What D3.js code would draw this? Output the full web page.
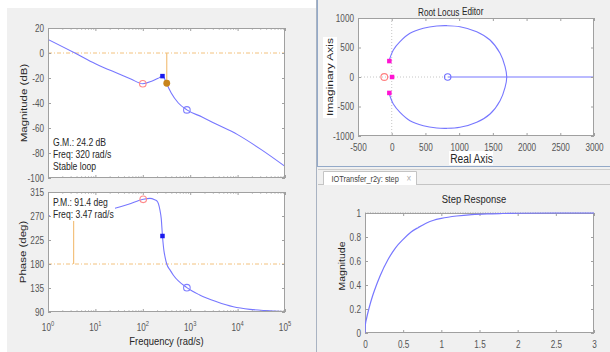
<!DOCTYPE html>
<html><head><meta charset="utf-8">
<script src="https://cdn.jsdelivr.net/npm/d3@7"></script>
<style>body{margin:0;background:#fff}svg{display:block}</style>
</head><body><svg id="c" width="610" height="352"></svg>
<script>
// ---------------- data ----------------
const magFreq = [1, 3.7, 10, 31.6, 56, 100, 158, 224, 260, 282, 316, 398, 562, 851, 1780, 3160, 10000, 31600, 100000];
const magDb   = [10.9, 0, -8.6, -16.8, -20.8, -24.6, -22.4, -19.7, -18.5, -19.8, -24.2, -32, -40, -45.5, -51.2, -56, -65.3, -77.3, -90.7];
const phaseFreq = [1, 3.47, 10, 25.9, 50, 102, 141, 178, 200, 229, 245, 260, 279, 295, 320, 380, 442, 851, 1585, 3630, 8130, 18200, 40700, 100000];
const phaseDeg  = [270.5, 271.4, 276, 284.4, 292, 301.3, 303, 300.5, 298, 282, 265, 232.5, 205, 193, 180, 168, 159, 135.6, 122, 109.4, 100, 95, 92.5, 90.6];
const gmDb = 24.2, gmFreq = 320, pmDeg = 91.4, pmFreq = 3.47;
const magRedCircle = [100, -24.6], magBlueX = [260, -18.5], magBlueCircle = [851, -45.5];
const phRedCircle = [102, 301.3], phBlueSquare = [260, 232.5], phBlueCircle = [851, 135.6];
const magTicks = [20, 0, -20, -40, -60, -80, -100];
const phaseTicks = [90, 135, 180, 225, 270, 315];
const freqDecades = [1, 10, 100, 1000, 10000, 100000];
const freqExp = ["0", "1", "2", "3", "4", "5"];

const rlArcRe = [-40, 24, 123, 271, 469, 668, 816, 1013, 1261, 1458, 1607, 1681, 1706, 1681, 1607, 1458, 1261, 1013, 816, 668, 469, 271, 123, 24, -40];
const rlArcIm = [271, 458, 599, 740, 825, 864, 870, 853, 768, 627, 401, 175, 0, -175, -401, -627, -768, -853, -870, -864, -825, -740, -599, -458, -271];
const rlRealBranch = [830, 3000];
const rlClosedPoles = [[-35, 270], [-35, -270], [5, 0]];
const rlRedZero = [-110, 0], rlBlueZero = [830, 0];
const rlXTicks = [-500, 0, 500, 1000, 1500, 2000, 2500, 3000];
const rlYTicks = [-1000, -500, 0, 500, 1000];

const stepT = [0, 0.005, 0.02, 0.05, 0.1, 0.15, 0.2, 0.3, 0.4, 0.5, 0.6, 0.7, 0.8, 0.9, 1.0, 1.2, 1.4, 1.6, 1.8, 2.0, 2.5, 3.0];
const stepY = [0, 0.07, 0.12, 0.2, 0.31, 0.40, 0.48, 0.61, 0.71, 0.78, 0.84, 0.88, 0.915, 0.94, 0.955, 0.975, 0.987, 0.993, 0.996, 0.998, 1.0, 1.0];
const stepXTicks = [0, 0.5, 1, 1.5, 2, 2.5, 3];
const stepYTicks = [0, 0.2, 0.4, 0.6, 0.8, 1];

// ---------------- style ----------------
const SX = 0.82;
const FONT = '"Liberation Sans", Arial, Helvetica, sans-serif';
const BLUE = "#7777ff", ORANGE_L = "#f3c27e", AX = "#a0a0a0", TICKTXT = "#555", DARK = "#262626";

const svg = d3.select("#c").attr("font-family", FONT);
svg.append("rect").attr("width", 610).attr("height", 352).attr("fill", "#fff");
svg.append("rect").attr("x", 7).attr("y", 8).attr("width", 310).attr("height", 344).attr("fill", "#f0f0f0");
svg.append("rect").attr("x", 317).attr("y", 0).attr("width", 293).attr("height", 352).attr("fill", "#f0f0f0");

function squish(sel) {
  sel.each(function () {
    const t = d3.select(this);
    const x = +t.attr("x") || 0, y = +t.attr("y") || 0;
    t.attr("x", null).attr("y", null).attr("transform", `translate(${x},${y}) scale(${SX},1)`);
  });
}
function label(g, x, y, str, o = {}) {
  return g.append("text")
    .attr("transform", `translate(${x},${y}) scale(${SX},1)` + (o.rotate ? ` rotate(${o.rotate})` : ""))
    .attr("text-anchor", o.anchor || "start")
    .attr("font-size", o.size || 10)
    .attr("fill", o.color || DARK)
    .attr("font-weight", o.weight || null)
    .text(str);
}
function styleAxis(a, keepText) {
  a.attr("font-family", FONT);
  a.select(".domain").remove();
  a.selectAll(".tick line").attr("stroke", AX);
  if (keepText) { a.selectAll(".tick text").attr("fill", TICKTXT).attr("font-size", 10); squish(a.selectAll(".tick text")); }
  else a.selectAll(".tick text").remove();
}
function plotBg(x0, x1, y0, y1) {
  svg.append("rect").attr("x", x0).attr("y", y0).attr("width", x1 - x0).attr("height", y1 - y0).attr("fill", "#fff");
}
function plotBorder(x0, x1, y0, y1) {
  svg.append("rect").attr("x", x0 + 0.5).attr("y", y0 + 0.5).attr("width", x1 - x0 - 1).attr("height", y1 - y0 - 1)
    .attr("fill", "none").attr("stroke", AX).attr("stroke-width", 1);
}
function clip(id, x0, x1, y0, y1) {
  svg.append("clipPath").attr("id", id).append("rect").attr("x", x0).attr("y", y0).attr("width", x1 - x0).attr("height", y1 - y0);
  return `url(#${id})`;
}
function openCircle(g, cx, cy, color, r = 3.3) {
  g.append("circle").attr("cx", cx).attr("cy", cy).attr("r", r).attr("fill", "none").attr("stroke", color).attr("stroke-width", 1.1);
}
function square(g, cx, cy, color, s = 5) {
  g.append("rect").attr("x", cx - s / 2).attr("y", cy - s / 2).attr("width", s).attr("height", s).attr("fill", color);
}

// ---------------- Bode ----------------
const BL = 48, BR = 285, MT = 28, MB = 178, PT = 192, PB = 312;
const xB = d3.scaleLog().domain([1, 100000]).range([BL, BR]);
const yMag = d3.scaleLinear().domain([-100, 20]).range([MB, MT]);
const yPh = d3.scaleLinear().domain([90, 315]).range([PB, PT]);
const minorFreq = [];
for (let d = 1; d < 100000; d *= 10) for (let k = 2; k <= 9; k++) minorFreq.push(d * k);

function bodeAxes(y0, y1, yScale, yTicks) {
  const gl = svg.append("g").attr("transform", `translate(${BL},0)`)
    .call(d3.axisLeft(yScale).tickValues(yTicks).tickSize(-3).tickPadding(4).tickFormat(d => String(d)));
  styleAxis(gl, true);
  const gr = svg.append("g").attr("transform", `translate(${BR},0)`).call(d3.axisRight(yScale).tickValues(yTicks).tickSize(-3));
  styleAxis(gr, false);
  [[y1, d3.axisBottom], [y0, d3.axisTop]].forEach(([yy, ax]) => {
    const a = svg.append("g").attr("transform", `translate(0,${yy})`).call(ax(xB).tickValues(freqDecades).tickSize(-3));
    styleAxis(a, false);
    const m = svg.append("g").attr("transform", `translate(0,${yy})`).call(ax(xB).tickValues(minorFreq).tickSize(-1.6));
    styleAxis(m, false);
  });
}

// Magnitude
plotBg(BL, BR, MT, MB);
const cm = clip("cm", BL, BR, MT, MB);
const gM = svg.append("g").attr("clip-path", cm);
gM.append("line").attr("x1", BL).attr("x2", BR).attr("y1", yMag(0)).attr("y2", yMag(0))
  .attr("stroke", ORANGE_L).attr("stroke-width", 1).attr("stroke-dasharray", "4,2,1,2");
gM.append("line").attr("x1", xB(gmFreq)).attr("x2", xB(gmFreq)).attr("y1", yMag(0)).attr("y2", yMag(-gmDb))
  .attr("stroke", ORANGE_L).attr("stroke-width", 1.2);
const magPts = magFreq.map((f, i) => [f, magDb[i]]);
gM.append("path").datum(magPts).attr("fill", "none").attr("stroke", BLUE).attr("stroke-width", 1.1)
  .attr("d", d3.line().x(d => xB(d[0])).y(d => yMag(d[1])).curve(d3.curveMonotoneX));
openCircle(gM, xB(magRedCircle[0]), yMag(magRedCircle[1]), "#ff8a8a");
openCircle(gM, xB(magBlueCircle[0]), yMag(magBlueCircle[1]), "#8080ff");
square(gM, xB(magBlueX[0]), yMag(magBlueX[1]), "#1a1aee", 4.5);
gM.append("circle").attr("cx", xB(gmFreq)).attr("cy", yMag(-gmDb)).attr("r", 3.4).attr("fill", "#c8841c");
label(svg, 53, 146, "G.M.: 24.2 dB", { size: 10.5 });
label(svg, 53, 158, "Freq: 320 rad/s", { size: 10.5 });
label(svg, 53, 170, "Stable loop", { size: 10.5 });
bodeAxes(MT, MB, yMag, magTicks);
plotBorder(BL, BR, MT, MB);

// Phase
plotBg(BL, BR, PT, PB);
const cp = clip("cp", BL, BR, PT, PB);
const gP = svg.append("g").attr("clip-path", cp);
gP.append("line").attr("x1", BL).attr("x2", BR).attr("y1", yPh(180)).attr("y2", yPh(180))
  .attr("stroke", ORANGE_L).attr("stroke-width", 1).attr("stroke-dasharray", "4,2,1,2");
gP.append("line").attr("x1", xB(pmFreq)).attr("x2", xB(pmFreq)).attr("y1", yPh(180)).attr("y2", yPh(180 + pmDeg))
  .attr("stroke", ORANGE_L).attr("stroke-width", 1.2);
const phPts = phaseFreq.map((f, i) => [f, phaseDeg[i]]);
gP.append("path").datum(phPts).attr("fill", "none").attr("stroke", BLUE).attr("stroke-width", 1.1)
  .attr("d", d3.line().x(d => xB(d[0])).y(d => yPh(d[1])).curve(d3.curveMonotoneX));
openCircle(gP, xB(phRedCircle[0]), yPh(phRedCircle[1]), "#ff8a8a");
openCircle(gP, xB(phBlueCircle[0]), yPh(phBlueCircle[1]), "#8080ff");
square(gP, xB(phBlueSquare[0]), yPh(phBlueSquare[1]), "#1a1aee", 4.5);
gP.append("rect").attr("x", 50).attr("y", 194).attr("width", 65).attr("height", 27).attr("fill", "#fff");
label(svg, 53, 205.5, "P.M.: 91.4 deg", { size: 10.5 });
label(svg, 53, 218, "Freq: 3.47 rad/s", { size: 10.5 });
bodeAxes(PT, PB, yPh, phaseTicks);
plotBorder(BL, BR, PT, PB);
freqDecades.forEach((d, i) => {
  const t = svg.append("text").attr("transform", `translate(${xB(d)},330.5) scale(${SX},1)`)
    .attr("text-anchor", "middle").attr("font-size", 10).attr("fill", TICKTXT);
  t.append("tspan").text("10");
  t.append("tspan").attr("dy", -4.5).attr("font-size", 7).text(freqExp[i]);
});
label(svg, 24, 103, "Magnitude (dB)", { size: 11.5, anchor: "middle", rotate: -90, color: DARK }).attr("dy", "0.35em");
label(svg, 23, 252, "Phase (deg)", { size: 11.5, anchor: "middle", rotate: -90, color: DARK }).attr("dy", "0.35em");
label(svg, 166.5, 345, "Frequency  (rad/s)", { size: 11.5, anchor: "middle" });

// divider
svg.append("line").attr("x1", 316.5).attr("x2", 316.5).attr("y1", 0).attr("y2", 352).attr("stroke", "#a9b3c2");

// ---------------- Root locus ----------------
const RL = 358, RR = 594, RT = 18, RB = 136;
const xR = d3.scaleLinear().domain([-500, 3000]).range([RL, RR]);
const yR = d3.scaleLinear().domain([-1000, 1000]).range([RB, RT]);
svg.append("line").attr("x1", 317.5).attr("x2", 317.5).attr("y1", 0).attr("y2", 167).attr("stroke", "#93a9c8");
svg.append("line").attr("x1", 317.5).attr("x2", 610).attr("y1", 166.5).attr("y2", 166.5).attr("stroke", "#93a9c8");
plotBg(RL, RR, RT, RB);
const cr = clip("cr", RL, RR, RT, RB);
const gR = svg.append("g").attr("clip-path", cr);
gR.append("line").attr("x1", xR(0)).attr("x2", xR(0)).attr("y1", RT).attr("y2", RB)
  .attr("stroke", "#b8b8b8").attr("stroke-width", 0.8).attr("stroke-dasharray", "1,2");
gR.append("line").attr("x1", RL).attr("x2", xR(rlBlueZero[0])).attr("y1", yR(0)).attr("y2", yR(0))
  .attr("stroke", "#b8b8b8").attr("stroke-width", 0.8).attr("stroke-dasharray", "1,2");
const arcPts = rlArcRe.map((r, i) => [r, rlArcIm[i]]);
gR.append("path").datum(arcPts).attr("fill", "none").attr("stroke", BLUE).attr("stroke-width", 1.1)
  .attr("d", d3.line().x(d => xR(d[0])).y(d => yR(d[1])).curve(d3.curveCatmullRom));
gR.append("line").attr("x1", xR(rlRealBranch[0])).attr("x2", xR(rlRealBranch[1])).attr("y1", yR(0)).attr("y2", yR(0))
  .attr("stroke", BLUE).attr("stroke-width", 1.1);
openCircle(gR, xR(rlRedZero[0]), yR(rlRedZero[1]), "#ff8080", 3.4);
openCircle(gR, xR(rlBlueZero[0]), yR(rlBlueZero[1]), "#7070ff", 3.2);
rlClosedPoles.forEach(p => square(gR, xR(p[0]), yR(p[1]), "#ff14d2", 4.5));
{
  const gl = svg.append("g").attr("transform", `translate(${RL},0)`)
    .call(d3.axisLeft(yR).tickValues(rlYTicks).tickSize(-3).tickPadding(4).tickFormat(d => String(d)));
  styleAxis(gl, true);
  const gr = svg.append("g").attr("transform", `translate(${RR},0)`).call(d3.axisRight(yR).tickValues(rlYTicks).tickSize(-3));
  styleAxis(gr, false);
  const gb = svg.append("g").attr("transform", `translate(0,${RB})`)
    .call(d3.axisBottom(xR).tickValues(rlXTicks).tickSize(-3).tickPadding(8).tickFormat(d => String(d)));
  styleAxis(gb, true);
  const gt = svg.append("g").attr("transform", `translate(0,${RT})`).call(d3.axisTop(xR).tickValues(rlXTicks).tickSize(-3));
  styleAxis(gt, false);
}
plotBorder(RL, RR, RT, RB);
svg.append("rect").attr("x", 323).attr("y", 37).attr("width", 14).attr("height", 81).attr("fill", "#fff");
label(svg, 330, 77, "Imaginary Axis", { size: 12, anchor: "middle", rotate: -90 }).attr("dy", "0.35em");
svg.append("rect").attr("x", 449).attr("y", 151).attr("width", 44).attr("height", 14).attr("fill", "#fff");
label(svg, 471.5, 163, "Real Axis", { size: 12.5, anchor: "middle" });
label(svg, 418, 16, "Root Locus", { size: 10 });
label(svg, 462, 15, "Editor", { size: 10 });

// ---------------- Step panel ----------------
svg.append("line").attr("x1", 318).attr("x2", 610).attr("y1", 169.5).attr("y2", 169.5).attr("stroke", "#cdcdcd");
svg.append("line").attr("x1", 318).attr("x2", 610).attr("y1", 184.5).attr("y2", 184.5).attr("stroke", "#c4c4c4");
svg.append("path").attr("d", "M323.5,185 L323.5,171.5 L416.5,171.5 L416.5,185").attr("fill", "#fff").attr("stroke", "#c4c4c4");
label(svg, 331.5, 181.5, "IOTransfer_r2y: step", { size: 9, color: "#444" });
label(svg, 409, 181.5, "×", { size: 10, color: "#aaa", anchor: "middle" });

const SL = 365, SR = 594, ST = 213, SB = 333;
const xS = d3.scaleLinear().domain([0, 3]).range([SL, SR]);
const yS = d3.scaleLinear().domain([0, 1]).range([SB, ST]);
plotBg(SL, SR, ST, SB);
const cs = clip("cs", SL, SR, ST - 1, SB);
const gS = svg.append("g").attr("clip-path", cs);
gS.append("line").attr("x1", SL).attr("x2", SR).attr("y1", yS(1)).attr("y2", yS(1))
  .attr("stroke", "#9a9a9a").attr("stroke-width", 0.9).attr("stroke-dasharray", "1,1.5");
const stepPts = stepT.map((t, i) => [t, stepY[i]]);
gS.append("path").datum(stepPts).attr("fill", "none").attr("stroke", BLUE).attr("stroke-width", 1.2)
  .attr("d", d3.line().x(d => xS(d[0])).y(d => yS(d[1])).curve(d3.curveMonotoneX));
{
  const gl = svg.append("g").attr("transform", `translate(${SL},0)`)
    .call(d3.axisLeft(yS).tickValues(stepYTicks).tickSize(-3).tickPadding(4).tickFormat(d => String(d)));
  styleAxis(gl, true);
  const gr = svg.append("g").attr("transform", `translate(${SR},0)`).call(d3.axisRight(yS).tickValues(stepYTicks).tickSize(-3));
  styleAxis(gr, false);
  const gb = svg.append("g").attr("transform", `translate(0,${SB})`)
    .call(d3.axisBottom(xS).tickValues(stepXTicks).tickSize(-3).tickPadding(8).tickFormat(d => String(d)));
  styleAxis(gb, true);
  const gt = svg.append("g").attr("transform", `translate(0,${ST})`).call(d3.axisTop(xS).tickValues(stepXTicks).tickSize(-3));
  styleAxis(gt, false);
}
plotBorder(SL, SR, ST, SB);
gS.raise();
label(svg, 474, 203, "Step Response", { size: 11.5, anchor: "middle" });
label(svg, 342, 266, "Magnitude", { size: 10.5, anchor: "middle", rotate: -90 }).attr("dy", "0.35em");
</script></body></html>
